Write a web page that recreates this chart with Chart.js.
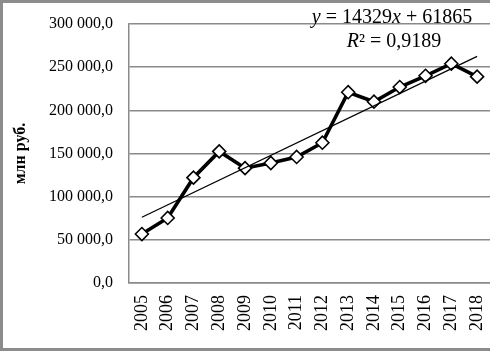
<!DOCTYPE html>
<html>
<head>
<meta charset="utf-8">
<script src="https://cdn.jsdelivr.net/npm/chart.js@4"></script>
<style>
  html, body { margin: 0; padding: 0; background: #fff; overflow: hidden; }
  #wrap { width: 490px; height: 351px; position: relative; }
</style>
</head>
<body>
<div id="wrap"><canvas id="chart"></canvas></div>
<script>
// Years and values (млн руб.)
const years = ['2005', '2006', '2007', '2008', '2009', '2010', '2011',
               '2012', '2013', '2014', '2015', '2016', '2017', '2018'];
const values = [56700, 75300, 122000, 152400, 133000, 139000, 146000,
                162500, 221000, 210000, 227000, 240000, 254000, 239000];
// Linear trend y = 14329x + 61865, values at first and last year
const trendValues = [76194, null, null, null, null, null, null,
                     null, null, null, null, null, null, 262471];
const yTicks = [0, 50000, 100000, 150000, 200000, 250000, 300000];

const serif = '"Liberation Serif", "Times New Roman", serif';
const gridGray = '#8a8a8a';

function fmt(v) {
    const s = Math.round(v).toString().replace(/\B(?=(\d{3})+(?!\d))/g, ' ');
    return s + ',0';
}

// Draw the trendline equation and the outer frame
const extras = {
    id: 'extras',
    afterDraw(chart) {
        const ctx = chart.ctx;
        ctx.save();
        ctx.fillStyle = '#000';
        ctx.textBaseline = 'alphabetic';
        const size = 20;
        const it = 'italic ' + size + 'px ' + serif;
        const rg = size + 'px ' + serif;
        const parts1 = [['y', it], [' = 14329', rg], ['x', it], [' + 61865', rg]];
        const parts2 = [['R', it], ['² = 0,9189', rg]];
        const drawLine = (parts, cx, base) => {
            let w = 0;
            parts.forEach(p => { ctx.font = p[1]; w += ctx.measureText(p[0]).width; });
            let x = cx - w / 2;
            ctx.textAlign = 'left';
            parts.forEach(p => { ctx.font = p[1]; ctx.fillText(p[0], x, base); x += ctx.measureText(p[0]).width; });
        };
        drawLine(parts1, 392, 23);
        drawLine(parts2, 394, 47);

        // frame
        ctx.strokeStyle = '#8c8c8c';
        ctx.lineWidth = 3;
        ctx.beginPath();
        ctx.moveTo(490, 1.5);
        ctx.lineTo(1.5, 1.5);
        ctx.lineTo(1.5, 349.5);
        ctx.lineTo(490, 349.5);
        ctx.stroke();
        ctx.restore();
    }
};

new Chart(document.getElementById('chart'), {
    type: 'line',
    data: {
        labels: years,
        datasets: [{
            label: 'values',
            data: values,
            borderColor: '#000',
            borderWidth: 3.6,
            pointStyle: 'rectRot',
            pointRadius: 6.5,
            pointBackgroundColor: '#fff',
            pointBorderColor: '#000',
            pointBorderWidth: 1.6,
            tension: 0,
            order: 2
        }, {
            label: 'trend',
            data: trendValues,
            borderColor: '#000',
            borderWidth: 1.3,
            pointRadius: 0,
            spanGaps: true,
            order: 1
        }]
    },
    options: {
        responsive: true,
        maintainAspectRatio: false,
        animation: false,
        layout: { autoPadding: false, padding: { left: 0, right: -2, top: 24, bottom: 0 } },
        plugins: {
            legend: { display: false },
            tooltip: { enabled: false }
        },
        scales: {
            x: {
                offset: true,
                grid: { display: false, drawTicks: false },
                border: { color: gridGray, width: 1.5 },
                ticks: {
                    color: '#000',
                    font: { family: serif, size: 18 },
                    minRotation: 90,
                    maxRotation: 90,
                    padding: 12,
                    autoSkip: false
                },
                afterFit(scale) {
                    scale.height = 68;
                    scale.paddingLeft = 0;
                    scale.paddingRight = 0;
                }
            },
            y: {
                min: 0,
                max: 300000,
                afterBuildTicks(scale) { scale.ticks = yTicks.map(v => ({ value: v })); },
                grid: { color: gridGray, lineWidth: 1.5, drawTicks: false },
                border: { color: gridGray, width: 1.5 },
                ticks: {
                    color: '#000',
                    font: { family: serif, size: 16 },
                    padding: 16,
                    callback: v => fmt(v)
                },
                title: {
                    display: true,
                    text: 'млн руб.',
                    color: '#000',
                    font: { family: serif, size: 16, weight: 'bold' },
                    padding: { top: 11, bottom: 0 }
                },
                afterFit(scale) {
                    scale.width = 129;
                    scale.paddingTop = 0;
                    scale.paddingBottom = 0;
                }
            }
        }
    },
    plugins: [extras]
});
</script>
</body>
</html>
